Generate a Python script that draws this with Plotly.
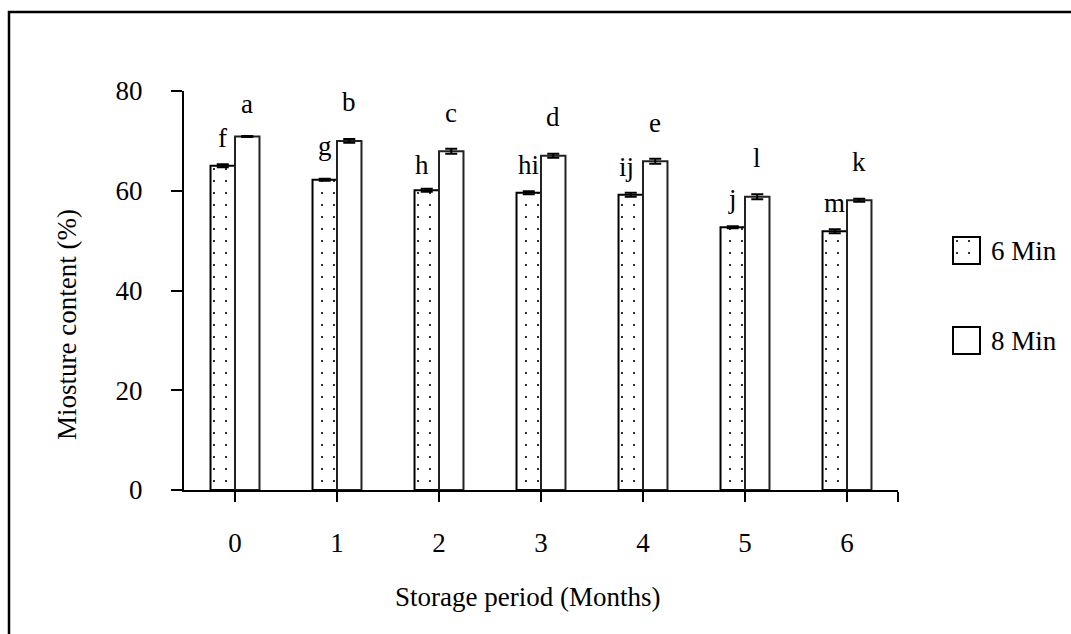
import plotly.graph_objects as go

# Storage period (months) and moisture content (%) for two blanching times
months = [0, 1, 2, 3, 4, 5, 6]
month_labels = ["0", "1", "2", "3", "4", "5", "6"]

moist_6min = [65.0, 62.2, 60.1, 59.6, 59.2, 52.7, 51.9]
err_6min = [0.3, 0.2, 0.3, 0.3, 0.4, 0.2, 0.4]
letters_6min = ["f", "g", "h", "hi", "ij", "j", "m"]

moist_8min = [70.9, 70.0, 67.9, 67.0, 65.9, 58.8, 58.1]
err_8min = [0.1, 0.4, 0.5, 0.4, 0.5, 0.5, 0.3]
letters_8min = ["a", "b", "c", "d", "e", "l", "k"]

series_names = ["6 Min", "8 Min"]

W, H = 1071, 634
FONT = "Liberation Serif"
FS = 27

# plot area in pixels
PX_L, PX_R, PX_T, PX_B = 184, 898, 91, 490


def px_x(p):
    return p / W


def px_y(p):
    return (H - p) / H


dot_pattern = dict(shape=".", fgcolor="black", bgcolor="white",
                   size=12, solidity=0.025, fillmode="replace")
err_style = dict(type="data", visible=True, color="black",
                 thickness=2, width=6)

fig = go.Figure()

fig.add_trace(go.Bar(
    x=months, y=moist_6min, name=series_names[0],
    marker=dict(color="white", line=dict(color="black", width=2),
                pattern=dot_pattern),
    error_y=dict(array=err_6min, **err_style),
    showlegend=False,
))
fig.add_trace(go.Bar(
    x=months, y=moist_8min, name=series_names[1],
    marker=dict(color="white", line=dict(color="#222", width=2)),
    error_y=dict(array=err_8min, **err_style),
    showlegend=False,
))

# Significance letters above each bar (small hand placement tweaks)
half = 0.12
dx_nudge = {"h": -0.05, "ij": -0.04}
dy_nudge = {"g": 1.2, "h": -0.5, "a": -1.2}
annotations = []
for m, v, lab in zip(months, moist_6min, letters_6min):
    annotations.append(dict(
        x=m - half + dx_nudge.get(lab, 0), y=v + 3.6 + dy_nudge.get(lab, 0),
        xref="x", yref="y", text=lab, showarrow=False,
        xanchor="center", yanchor="bottom", yshift=-7,
        font=dict(family=FONT, size=FS, color="black")))
for m, v, lab in zip(months, moist_8min, letters_8min):
    annotations.append(dict(
        x=m + half + dx_nudge.get(lab, 0), y=v + 5.7 + dy_nudge.get(lab, 0),
        xref="x", yref="y", text=lab, showarrow=False,
        xanchor="center", yanchor="bottom", yshift=-7,
        font=dict(family=FONT, size=FS, color="black")))

# Axis titles
annotations.append(dict(
    x=px_x(527), y=px_y(597), xref="paper", yref="paper",
    text="Storage period (Months)", showarrow=False,
    xanchor="center", yanchor="middle",
    font=dict(family=FONT, size=FS, color="black")))
annotations.append(dict(
    x=px_x(67), y=px_y(325), xref="paper", yref="paper",
    text="Miosture content (%)", showarrow=False, textangle=-90,
    xanchor="center", yanchor="middle",
    font=dict(family=FONT, size=FS, color="black")))

# Legend: large swatches drawn as single bars on small helper axes
legend_boxes = [(953, 237), (953, 327)]
SW = 27
for i, (name, (bx, by)) in enumerate(zip(series_names, legend_boxes)):
    ax = str(i + 2)
    pad = 2
    fig.add_trace(go.Bar(
        x=[0], y=[1], width=[1], xaxis="x" + ax, yaxis="y" + ax,
        marker=dict(color="white", line=dict(color="black", width=2),
                    pattern=dot_pattern if i == 0 else dict(shape="")),
        showlegend=False, hoverinfo="skip",
    ))
    ext = pad / SW
    fig.layout["xaxis" + ax] = dict(
        domain=[px_x(bx - pad), px_x(bx + SW + pad)],
        range=[-0.5 - ext, 0.5 + ext], visible=False, fixedrange=True,
        automargin=False, anchor="y" + ax)
    fig.layout["yaxis" + ax] = dict(
        domain=[px_y(by + SW + pad), px_y(by - pad)],
        range=[-ext, 1 + ext], visible=False, fixedrange=True,
        automargin=False, anchor="x" + ax)
    annotations.append(dict(
        x=px_x(bx + SW + 9), y=px_y(by + SW / 2), xref="paper", yref="paper",
        text=name, showarrow=False, xanchor="left", yanchor="middle",
        font=dict(family=FONT, size=FS, color="black")))

fig.update_layout(
    template="none",
    width=W, height=H,
    margin=dict(l=0, r=0, t=0, b=0, pad=0),
    paper_bgcolor="white", plot_bgcolor="white",
    barmode="group", bargap=0.52, bargroupgap=0,
    font=dict(family=FONT, size=FS, color="black"),
    xaxis=dict(
        domain=[px_x(PX_L), px_x(PX_R)],
        range=[-0.5, 6.5],
        tickvals=months + [6.5], ticktext=month_labels + [""],
        ticks="outside", ticklen=10, tickwidth=2, tickcolor="black",
        showline=True, linecolor="black", linewidth=2,
        showgrid=False, zeroline=False, automargin=False,
        ticklabelstandoff=18,
        tickfont=dict(family=FONT, size=FS, color="black"),
        anchor="y", fixedrange=True,
    ),
    yaxis=dict(
        domain=[px_y(PX_B), px_y(PX_T)],
        range=[0, 80], tickvals=[0, 20, 40, 60, 80],
        ticks="outside", ticklen=11, tickwidth=2, tickcolor="black",
        showline=True, linecolor="black", linewidth=2,
        showgrid=False, zeroline=False, automargin=False,
        ticklabelstandoff=23,
        tickfont=dict(family=FONT, size=FS, color="black"),
        anchor="x", fixedrange=True,
    ),
    annotations=annotations,
    shapes=[dict(type="rect", xref="paper", yref="paper",
                 x0=px_x(9), x1=1.02, y0=-0.02, y1=px_y(12),
                 line=dict(color="black", width=2.5))],
)

fig.write_html("out.html")
